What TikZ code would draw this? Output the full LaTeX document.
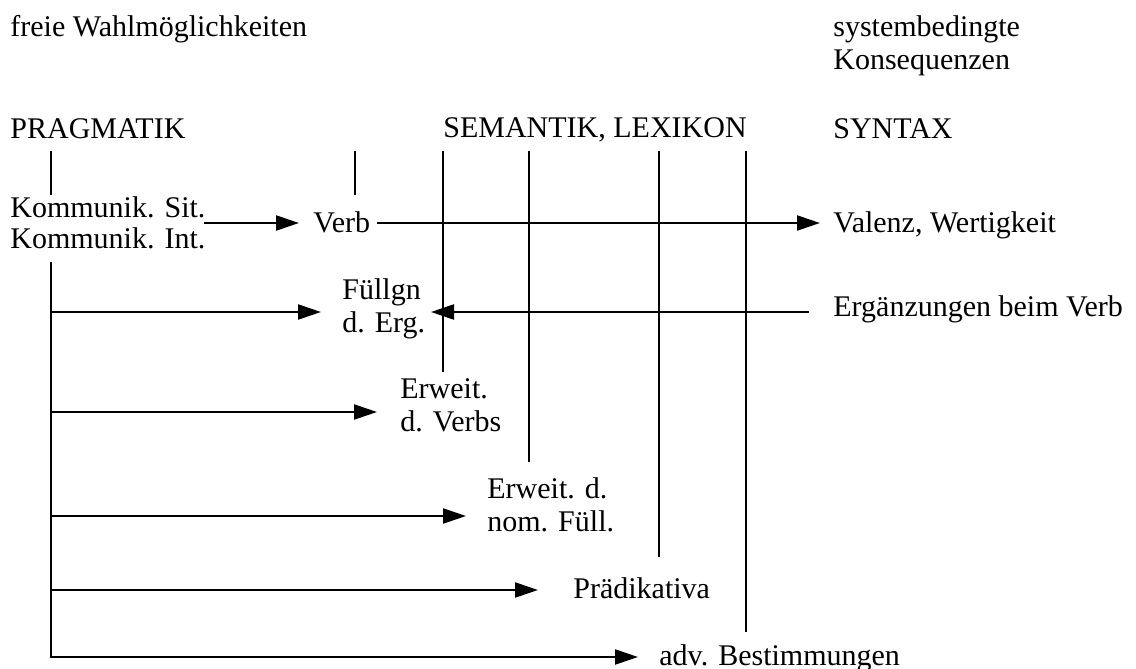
\documentclass[tikz,border=0pt]{standalone}
\usepackage{fontspec}
\setmainfont{Liberation Serif}
\usetikzlibrary{arrows.meta}
\begin{document}
\begin{tikzpicture}[x=0.5pt,y=-0.5pt,
  lbl/.style={anchor=base west, inner sep=0pt, font=\fontsize{15}{16.75}\selectfont},
  ln/.style={line width=1.1pt},
  arr/.style={line width=1.1pt, -{Triangle[length=11.5pt,width=7.5pt]}}]
\useasboundingbox (0,0) rectangle (1136,669);
\newcommand{\twoline}[3][0pt]{\begin{tabular}[t]{@{}l@{}}#2\\[#1]#3\end{tabular}}
% labels
\node[lbl] (freie) at (10,36) {freie Wahlmöglichkeiten};
\node[lbl] (sys) at (833,36) {\twoline{systembedingte}{Konsequenzen}};
\node[lbl] (prag) at (10,138) {PRAGMATIK};
\node[lbl] (sem) at (443,137) {SEMANTIK, LEXIKON};
\node[lbl] (syn) at (833,138) {SYNTAX};
\node[lbl] (komm) at (10,217) {\twoline[-1pt]{Kommunik. Sit.}{Kommunik. Int.}};
\node[lbl] (verb) at (313,232) {Verb};
\node[lbl] (valenz) at (833,232) {Valenz, Wertigkeit};
\node[lbl] (fuell) at (342,299) {\twoline{Füllgn}{d. Erg.}};
\node[lbl] (erg) at (833,316) {Ergänzungen beim Verb};
\node[lbl] (erwv) at (400,398) {\twoline{Erweit.}{d. Verbs}};
\node[lbl] (erwn) at (487,498) {\twoline{Erweit. d.}{nom. Füll.}};
\node[lbl] (praed) at (573,598) {Prädikativa};
\node[lbl] (adv) at (659,665) {adv. Bestimmungen};
% coordinates
\coordinate (pA) at (51,151);
\coordinate (pB) at (51,195);
\coordinate (pC) at (51,262);
\coordinate (vA) at (355,151);
\coordinate (vB) at (355,195);
\coordinate (s1a) at (443,151); \coordinate (s1b) at (443,372);
\coordinate (s2a) at (529,151); \coordinate (s2b) at (529,462);
\coordinate (s3a) at (659,151); \coordinate (s3b) at (659,557);
\coordinate (s4a) at (746,151); \coordinate (s4b) at (746,632);
\coordinate (kEnd) at (204,223); \coordinate (verbIn) at (299,223);
\coordinate (verbOut) at (377,223); \coordinate (valIn) at (820,223);
\coordinate (r1) at (51,312); \coordinate (fIn) at (321,312);
\coordinate (ergOut) at (809,312); \coordinate (fIn2) at (431,312);
\coordinate (r2) at (51,412); \coordinate (evIn) at (377,412);
\coordinate (r3) at (51,516); \coordinate (enIn) at (466,516);
\coordinate (r4) at (51,590); \coordinate (prIn) at (538,590);
\coordinate (advIn) at (638,657);
% vertical lines
\draw[ln] (pA) -- (pB);
\draw[ln] (vA) -- (vB);
\draw[ln] (s1a) -- (s1b);
\draw[ln] (s2a) -- (s2b);
\draw[ln] (s3a) -- (s3b);
\draw[ln] (s4a) -- (s4b);
% arrows
\draw[arr] (kEnd) -- (verbIn);
\draw[arr] (verbOut) -- (valIn);
\draw[arr] (r1) -- (fIn);
\draw[arr] (ergOut) -- (fIn2);
\draw[arr] (r2) -- (evIn);
\draw[arr] (r3) -- (enIn);
\draw[arr] (r4) -- (prIn);
\draw[arr] (pC) |- (advIn);
\end{tikzpicture}
\end{document}
